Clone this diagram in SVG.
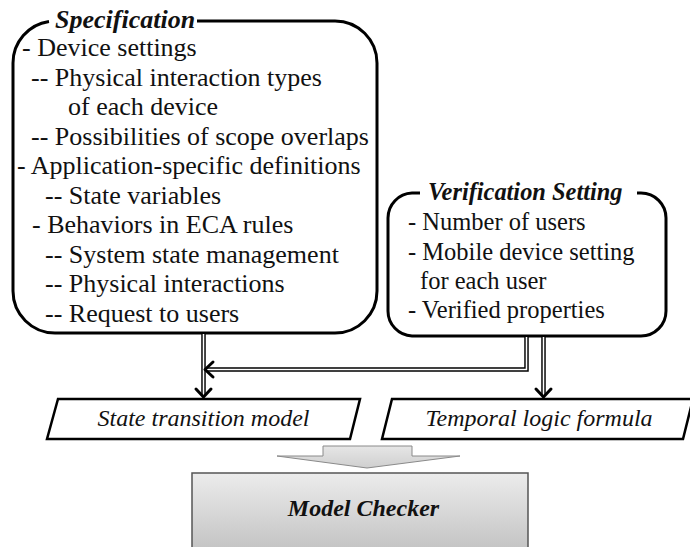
<svg xmlns="http://www.w3.org/2000/svg" width="690" height="547" viewBox="0 0 690 547">
<style>
.box{fill:none;stroke:#000;stroke-width:3}
.t{font-size:26px;fill:#111}
.tv{font-size:24.5px;fill:#111}
.title{font-weight:bold;font-style:italic;fill:#111}
.it{font-style:italic;font-size:24px;fill:#111;text-anchor:middle}
.para{fill:#fff;stroke:#000;stroke-width:2.5}
.dbl-o{fill:none;stroke:#000;stroke-width:4.5}
.dbl-i{fill:none;stroke:#fff;stroke-width:1.6}
.head{fill:none;stroke:#000;stroke-width:3;stroke-linecap:round;stroke-linejoin:round}
</style>
<defs>
<linearGradient id="gBox" x1="0" y1="0" x2="0" y2="1">
<stop offset="0" stop-color="#ececec"/>
<stop offset="1" stop-color="#c2c2c2"/>
</linearGradient>
<linearGradient id="gArr" x1="0" y1="0" x2="0" y2="1">
<stop offset="0" stop-color="#e6e6e6"/>
<stop offset="1" stop-color="#cfcfcf"/>
</linearGradient>
</defs>

<g font-family="Liberation Serif, Times New Roman, DejaVu Serif, serif">
<g id="specification">
<path class="box" d="M197,21 H335 A42,42 0 0 1 377,63 V291 A42,42 0 0 1 335,333 H55 A42,42 0 0 1 13,291 V63 A42,42 0 0 1 49,21.5"/>
<text class="title" x="55" y="28" font-size="26">Specification</text>
<text class="t" x="22" y="56">- Device settings</text>
<text class="t" x="31" y="86">-- Physical interaction types</text>
<text class="t" x="68" y="115">of each device</text>
<text class="t" x="31" y="145">-- Possibilities of scope overlaps</text>
<text class="t" x="17" y="174">- Application-specific definitions</text>
<text class="t" x="45" y="204">-- State variables</text>
<text class="t" x="32" y="233">- Behaviors in ECA rules</text>
<text class="t" x="45" y="263">-- System state management</text>
<text class="t" x="45" y="292">-- Physical interactions</text>
<text class="t" x="45" y="322">-- Request to users</text>
</g>

<g id="verification">
<path class="box" d="M637,193 H641 A25,25 0 0 1 666,218 V311 A25,25 0 0 1 641,336 H412 A25,25 0 0 1 388,311 V218 A25,25 0 0 1 412,193 H420"/>
<text class="title" x="428" y="200" font-size="24.4">Verification Setting</text>
<text class="tv" x="408" y="230">- Number of users</text>
<text class="tv" x="408" y="260">- Mobile device setting</text>
<text class="tv" x="420" y="289">for each user</text>
<text class="tv" x="408" y="318">- Verified properties</text>
</g>

<g id="connectors">
<path class="dbl-o" d="M203.5,334 V396"/>
<path class="dbl-i" d="M203.5,334 V396"/>
<path class="dbl-o" d="M526.5,337 V369.5 H207"/>
<path class="dbl-i" d="M526.5,337 V369.5 H207"/>
<path class="dbl-o" d="M543.5,337 V396"/>
<path class="dbl-i" d="M543.5,337 V396"/>
<path class="head" d="M196,389 L203.5,397 L211,389"/>
<path class="head" d="M536,389 L543.5,397 L551,389"/>
<path class="head" d="M213,362 L205,369.5 L213,377"/>
</g>

<g id="state-transition-model">
<polygon class="para" points="58,399 360,399 350,439 47,439"/>
<text class="it" x="203.5" y="426">State transition model</text>
</g>

<g id="temporal-logic-formula">
<polygon class="para" points="392,399 693,399 683,439 382,439"/>
<text class="it" x="539" y="426">Temporal logic formula</text>
</g>

<g id="block-arrow">
<path d="M323,446 H412 V456 H460 L367,468 L277,456 H323 Z" fill="url(#gArr)" stroke="#8a8a8a" stroke-width="1"/>
</g>

<g id="model-checker">
<rect x="192" y="473" width="336" height="80" fill="url(#gBox)" stroke="#555" stroke-width="1.5"/>
<text class="title" x="363.5" y="516" font-size="24" text-anchor="middle">Model Checker</text>
</g>
</g>
</svg>
